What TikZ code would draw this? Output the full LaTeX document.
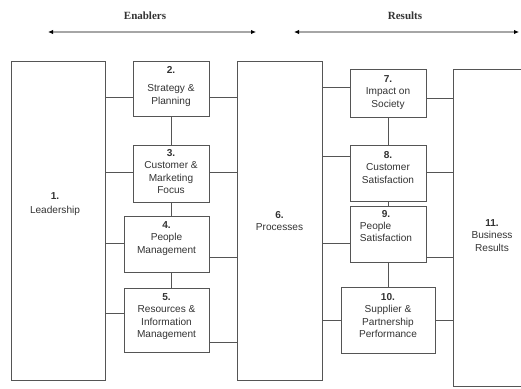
\documentclass[tikz,border=0pt]{standalone}
\usepackage{fontspec}
\setmainfont{Liberation Sans}
\newfontfamily\serifhead{Liberation Serif}
\usetikzlibrary{arrows.meta}
\definecolor{boxline}{HTML}{555555}
\definecolor{txt}{HTML}{333333}
\begin{document}
\begin{tikzpicture}[x=1pt,y=-1pt,
  box/.style={draw=boxline,line width=0.9pt,inner sep=0pt,fill=white},
  lbl/.style={inner sep=0pt,anchor=north,align=center,text=txt,font=\fontsize{10.1}{12.5}\selectfont},
  conn/.style={draw=boxline,line width=0.9pt},
  head/.style={inner sep=0pt,text=txt,font=\serifhead\bfseries\fontsize{11}{13}\selectfont},
  span/.style={draw=gray!70,line width=1.3pt,{Latex[length=5pt,width=4.5pt,black]}-{Latex[length=5pt,width=4.5pt,black]}}]
\useasboundingbox (0,0) rectangle (521,388);
% headings
\node[head] (enab) at (145,16) {Enablers};
\node[head] (res) at (405,16) {Results};
\coordinate (ea) at (48,32);
\coordinate (eb) at (256,32);
\coordinate (ra) at (294,32);
\coordinate (rb) at (519,32);
\draw[span] (ea) -- (eb);
\draw[span] (ra) -- (rb);
% boxes
\node[box,minimum width=94pt,minimum height=319pt] (b1) at (58,220.5) {};
\node[box,minimum width=76pt,minimum height=55pt] (b2) at (171,88.5) {};
\node[box,minimum width=76pt,minimum height=57pt] (b3) at (171,173.5) {};
\node[box,minimum width=85pt,minimum height=56pt] (b4) at (166.5,244) {};
\node[box,minimum width=85pt,minimum height=64pt] (b5) at (166.5,320) {};
\node[box,minimum width=85pt,minimum height=319pt] (b6) at (279.5,220.5) {};
\node[box,minimum width=76pt,minimum height=48pt] (b7) at (388,93) {};
\node[box,minimum width=76pt,minimum height=56pt] (b8) at (388,173) {};
\node[box,minimum width=76pt,minimum height=56pt] (b9) at (388,234) {};
\node[box,minimum width=94pt,minimum height=66pt] (b10) at (388,320) {};
\node[box,minimum width=77pt,minimum height=317pt] (b11) at (491.5,227.5) {};
% labels
\node[lbl] (t1) at (55,192) {\textbf{1.}\\[2pt]Leadership};
\node[lbl] (t2) at (171,66) {\textbf{2.}\\[6pt]Strategy \&\\Planning};
\node[lbl] (t3) at (171,149) {\textbf{3.}\\Customer \&\\Marketing\\Focus};
\node[lbl] (t4) at (166.5,221) {\textbf{4.}\\People\\Management};
\node[lbl] (t5) at (166.5,293) {\textbf{5.}\\Resources \&\\Information\\Management};
\node[lbl] (t6) at (279.5,211) {\textbf{6.}\\Processes};
\node[lbl] (t7) at (388,75) {\textbf{7.}\\Impact on\\Society};
\node[lbl] (t8) at (388,151) {\textbf{8.}\\Customer\\Satisfaction};
\node[lbl] (t9) at (386,210) {\textbf{9.}\\[2pt]\begin{tabular}{@{}l@{}}People\\Satisfaction\end{tabular}};
\node[lbl] (t10) at (388,293) {\textbf{10.}\\Supplier \&\\Partnership\\Performance};
\node[lbl] (t11) at (492,219) {\textbf{11.}\\Business\\Results};
% connectors: enablers
\draw[conn] (b1.east |- 0,97) -- (b2.west |- 0,97);
\draw[conn] (b2.east |- 0,97) -- (b6.west |- 0,97);
\draw[conn] (b1.east |- 0,172) -- (b3.west |- 0,172);
\draw[conn] (b3.east |- 0,172) -- (b6.west |- 0,172);
\draw[conn] (b1.east |- 0,243) -- (b4.west |- 0,243);
\draw[conn] (b4.east |- 0,257) -- (b6.west |- 0,257);
\draw[conn] (b1.east |- 0,313) -- (b5.west |- 0,313);
\draw[conn] (b5.east |- 0,342) -- (b6.west |- 0,342);
\draw[conn] (b2.south) -- (b3.north);
\draw[conn] (b3.south) -- (b4.north -| b3.south);
\draw[conn] (b4.south -| b3.south) -- (b5.north -| b3.south);
% connectors: results
\draw[conn] (b6.east |- 0,87) -- (b7.west |- 0,87);
\draw[conn] (b7.east |- 0,98) -- (b11.west |- 0,98);
\draw[conn] (b6.east |- 0,156) -- (b8.west |- 0,156);
\draw[conn] (b8.east |- 0,172) -- (b11.west |- 0,172);
\draw[conn] (b6.east |- 0,243) -- (b9.west |- 0,243);
\draw[conn] (b9.east |- 0,257) -- (b11.west |- 0,257);
\draw[conn] (b6.east |- 0,320) -- (b10.west |- 0,320);
\draw[conn] (b10.east |- 0,320) -- (b11.west |- 0,320);
\draw[conn] (b7.south) -- (b8.north);
\draw[conn] (b8.south) -- (b9.north);
\draw[conn] (b9.south) -- (b10.north);
\end{tikzpicture}
\end{document}
